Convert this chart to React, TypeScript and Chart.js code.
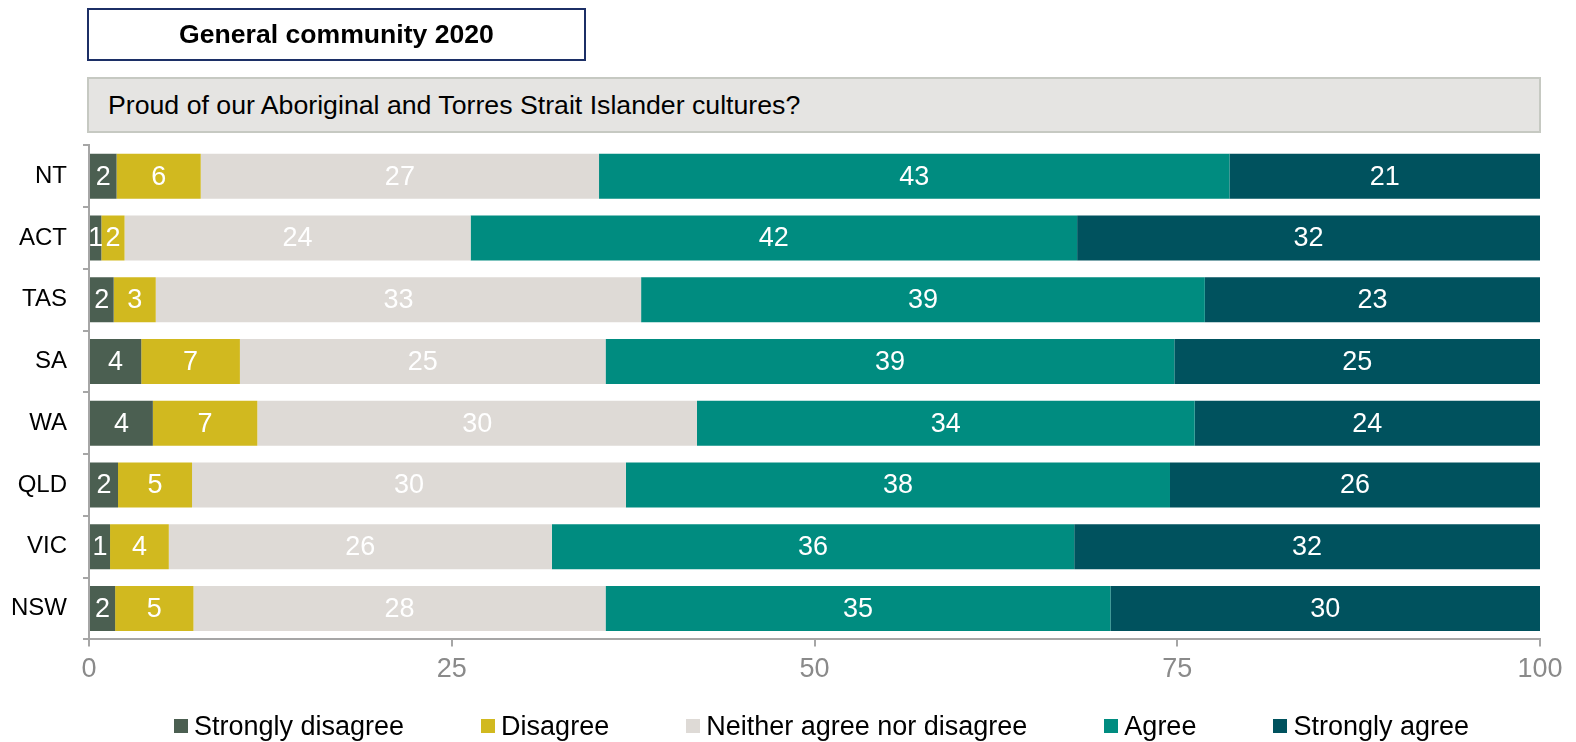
import React, { useEffect, useRef } from "react";
import { Chart, registerables } from "chart.js";
Chart.register(...registerables);

const FONT = "'Liberation Sans', Arial, sans-serif";

const categories = ["NT", "ACT", "TAS", "SA", "WA", "QLD", "VIC", "NSW"];
const seriesNames = [
  "Strongly disagree",
  "Disagree",
  "Neither agree nor disagree",
  "Agree",
  "Strongly agree",
];
const stronglyDisagree = [1.9, 0.85, 1.7, 3.6, 4.4, 2.0, 1.45, 1.8];
const disagree = [5.8, 1.6, 2.9, 6.8, 7.2, 5.1, 4.05, 5.4];
const neither = [27.45, 23.85, 33.45, 25.2, 30.3, 29.9, 26.4, 28.4];
const agree = [43.45, 41.8, 38.85, 39.2, 34.3, 37.5, 36.0, 34.8];
const stronglyAgree = [21.4, 31.9, 23.1, 25.2, 23.8, 25.5, 32.1, 29.6];
const xTicks = [0, 25, 50, 75, 100];
const seriesColors = ["#4b5f51", "#d1b91f", "#dedad6", "#008c80", "#00525e"];

const chartTitle = "General community 2020";
const question = "Proud of our Aboriginal and Torres Strait Islander cultures?";

const dataLabelPlugin = {
  id: "dataLabels",
  afterDatasetsDraw(chart: any) {
    const ctx = chart.ctx;
    ctx.save();
    ctx.font = `27px ${FONT}`;
    ctx.fillStyle = "#ffffff";
    ctx.textAlign = "center";
    ctx.textBaseline = "middle";
    chart.data.datasets.forEach((ds: any, di: number) => {
      const meta = chart.getDatasetMeta(di);
      meta.data.forEach((el: any, i: number) => {
        const p = el.getProps(["x", "y", "base"], true);
        const v = ds.data[i];
        ctx.fillText(String(Math.round(v)), (p.x + p.base) / 2, p.y + 1);
      });
    });
    ctx.restore();
  },
};

const legendPlugin = {
  id: "customLegend",
  afterDraw(chart: any) {
    const ctx = chart.ctx;
    const area = chart.chartArea;
    const box = 14;
    const gap = 6;
    const itemGap = 77;
    ctx.save();
    ctx.font = `27px ${FONT}`;
    ctx.textBaseline = "middle";
    ctx.textAlign = "left";
    const items = chart.data.datasets.map((ds: any) => ({
      label: ds.label,
      color: ds.backgroundColor,
      w: box + gap + ctx.measureText(ds.label).width,
    }));
    const total =
      items.reduce((s: number, it: any) => s + it.w, 0) + itemGap * (items.length - 1);
    let x = (area.left + area.right) / 2 + 7 - total / 2;
    const y = area.bottom + 87;
    items.forEach((it: any) => {
      ctx.fillStyle = it.color;
      ctx.fillRect(Math.round(x), Math.round(y - box / 2), box, box);
      ctx.fillStyle = "#000000";
      ctx.fillText(it.label, x + box + gap, y + 1);
      x += it.w + itemGap;
    });
    ctx.restore();
  },
};

function StackedChart() {
  const ref = useRef<HTMLCanvasElement | null>(null);
  useEffect(() => {
    if (!ref.current) return;
    const series = [stronglyDisagree, disagree, neither, agree, stronglyAgree];
    const chart = new Chart(ref.current, {
      type: "bar",
      data: {
        labels: categories,
        datasets: series.map((d, i) => ({
          label: seriesNames[i],
          data: d,
          backgroundColor: seriesColors[i],
          borderWidth: 0,
          barPercentage: 0.729,
          categoryPercentage: 1,
        })),
      },
      options: {
        indexAxis: "y",
        responsive: false,
        animation: false,
        devicePixelRatio: 1,
        layout: { padding: { left: 0, right: 36, top: 145.4, bottom: 0 } },
        plugins: {
          legend: { display: false },
          tooltip: { enabled: false },
          title: { display: false },
        },
        scales: {
          x: {
            stacked: true,
            min: 0,
            max: 100,
            afterBuildTicks(scale: any) {
              scale.ticks = xTicks.map((v) => ({ value: v }));
            },
            afterFit(scale: any) {
              scale.height = 102.6;
            },
            grid: {
              drawOnChartArea: false,
              drawTicks: true,
              tickLength: 7,
              color: "#a6a6a6",
              lineWidth: 2,
            },
            border: { display: true, color: "#a6a6a6", width: 2 },
            ticks: {
              font: { size: 27, family: FONT },
              color: "#8a8a8a",
              padding: 7,
              maxRotation: 0,
            },
          },
          y: {
            stacked: true,
            afterFit(scale: any) {
              scale.width = 89;
            },
            grid: {
              offset: true,
              drawOnChartArea: false,
              drawTicks: true,
              tickLength: 6,
              color: "#a6a6a6",
              lineWidth: 2,
            },
            border: { display: true, color: "#a6a6a6", width: 2 },
            ticks: {
              font: { size: 24, family: FONT },
              color: "#000000",
              padding: 16,
            },
          },
        },
      },
      plugins: [dataLabelPlugin, legendPlugin],
    } as any);
    return () => chart.destroy();
  }, []);
  return (
    <canvas
      ref={ref}
      width={1576}
      height={742}
      style={{ position: "absolute", left: 0, top: 0, width: 1576, height: 742 }}
    />
  );
}

export default function App() {
  return (
    <div
      style={{
        position: "fixed",
        left: 0,
        top: 0,
        width: 1576,
        height: 742,
        background: "#ffffff",
        fontFamily: FONT,
        overflow: "hidden",
      }}
    >
      <StackedChart />
      <div
        style={{
          position: "absolute",
          left: 87,
          top: 8,
          width: 499,
          height: 53,
          boxSizing: "border-box",
          border: "2px solid #1c2f66",
          display: "flex",
          alignItems: "center",
          justifyContent: "center",
          fontWeight: "bold",
          fontSize: 26.6,
          color: "#000",
        }}
      >
        {chartTitle}
      </div>
      <div
        style={{
          position: "absolute",
          left: 87,
          top: 77,
          width: 1454,
          height: 56,
          boxSizing: "border-box",
          border: "2px solid #c6c9c2",
          background: "#e5e4e2",
          display: "flex",
          alignItems: "center",
          paddingLeft: 19,
          fontSize: 26.7,
          color: "#000",
        }}
      >
        {question}
      </div>
    </div>
  );
}
